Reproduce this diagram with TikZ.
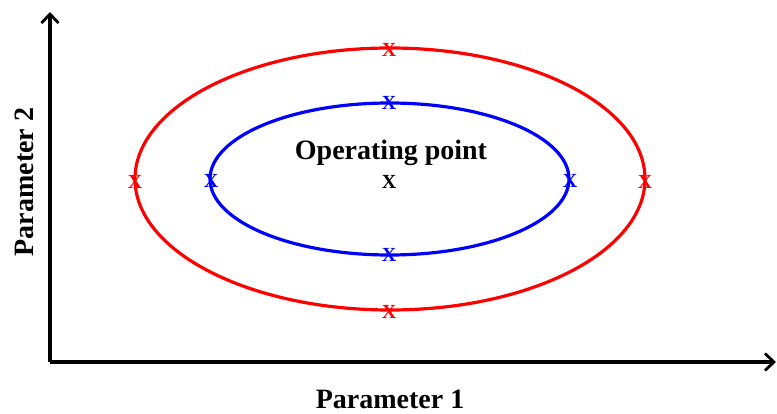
\documentclass[tikz,border=0pt]{standalone}
\usepackage{fontspec}
\setmainfont{Liberation Serif}
\usetikzlibrary{arrows.meta}
\begin{document}
\begin{tikzpicture}[x=1pt,y=-1pt,
  axisline/.style={line width=3.2pt,-{Straight Barb[length=9pt,width=17pt,line width=2.8pt]}},
  lbl/.style={font=\fontsize{28}{32}\selectfont\bfseries,inner sep=0pt},
  mk/.style={font=\fontsize{20}{24}\selectfont\bfseries,inner sep=0pt},
  redc/.style={draw=red,line width=3.2pt},
  bluec/.style={draw=blue,line width=3.2pt}]
\useasboundingbox (0,0) rectangle (777,414);
\coordinate (o) at (50,362);
\coordinate (ytop) at (50,12);
\coordinate (xend) at (776,362);
\draw[axisline] (o) -- (ytop);
\draw[axisline] (o) -- (xend);
\draw[redc] (390,179) ellipse [x radius=255, y radius=131];
\draw[bluec] (389.5,179) ellipse [x radius=179.5, y radius=76];
\node[lbl] (p1) at (390,399) {Parameter 1};
\node[lbl,rotate=90] (p2) at (24,182) {Parameter 2};
\node[lbl] (op) at (391,153) {Operating point};
\node[mk] (x0) at (389,182) {X};
\node[mk,text=red] (r1) at (389,50) {X};
\node[mk,text=red] (r2) at (389,312) {X};
\node[mk,text=red] (r3) at (135,182) {X};
\node[mk,text=red] (r4) at (645,182) {X};
\node[mk,text=blue] (b1) at (389,103) {X};
\node[mk,text=blue] (b2) at (389,255) {X};
\node[mk,text=blue] (b3) at (211,181) {X};
\node[mk,text=blue] (b4) at (570,181) {X};
\end{tikzpicture}
\end{document}
